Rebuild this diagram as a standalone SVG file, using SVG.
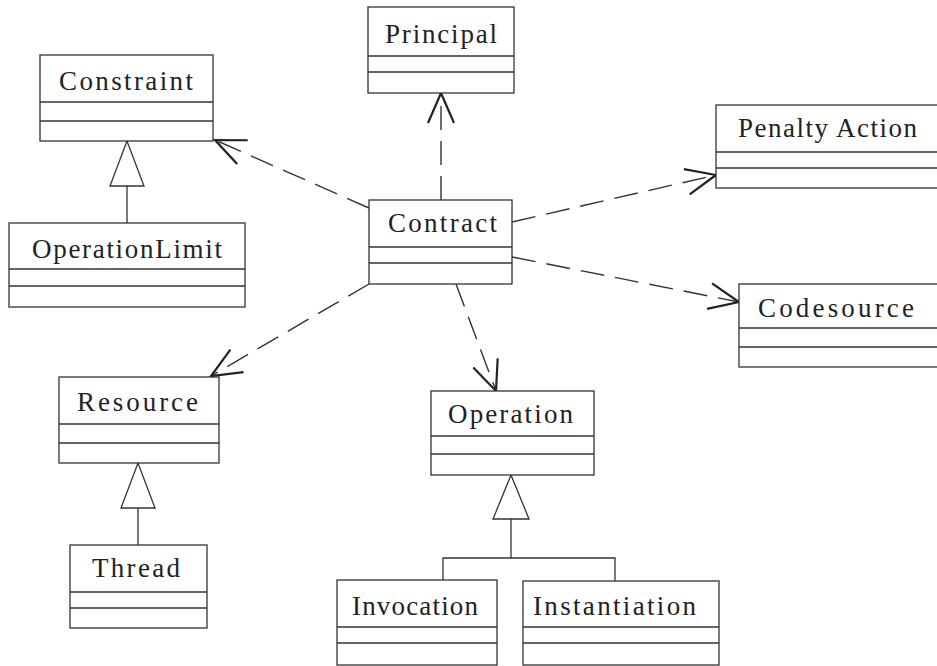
<svg xmlns="http://www.w3.org/2000/svg" width="937" height="666" viewBox="0 0 937 666">
  <style>
    .box rect, .box line { fill: none; stroke: #333; stroke-width: 1.3; }
    .box rect { fill: #fff; }
    .box text { font-family: "Liberation Serif", "Times New Roman", serif; font-size: 27px; fill: #222; }
    .dep { fill: none; stroke: #333; stroke-width: 1.4; stroke-dasharray: 24 11; marker-end: url(#open); }
    .gen { fill: none; stroke: #333; stroke-width: 1.3; }
    .tri { fill: #fff; stroke: #333; stroke-width: 1.3; }
  </style>
  <defs>
    <!-- open V arrowhead for dependencies -->
    <marker id="open" markerUnits="userSpaceOnUse" orient="auto" markerWidth="40" markerHeight="40" refX="0" refY="0" viewBox="-35 -20 40 40" overflow="visible">
      <path d="M-30,-13 L0,0 L-30,13" fill="none" stroke="#222" stroke-width="2.2" stroke-dasharray="none"/>
    </marker>
  </defs>
  <rect width="937" height="666" fill="#fff"/>

  <!-- connectors -->
  <g id="connectors">
    <line class="dep" x1="369" y1="208" x2="215" y2="140"/>
    <line class="dep" x1="441" y1="200" x2="441" y2="93"/>
    <line class="dep" x1="512" y1="222" x2="716" y2="175"/>
    <line class="dep" x1="512" y1="257" x2="739" y2="302"/>
    <line class="dep" x1="369" y1="284" x2="211" y2="376"/>
    <line class="dep" x1="456" y1="284" x2="496" y2="391"/>

    <!-- generalizations -->
    <line class="gen" x1="127" y1="223" x2="127" y2="186"/>
    <polygon class="tri" points="127,141 110,186 144,186"/>
    <line class="gen" x1="138" y1="545" x2="138" y2="508"/>
    <polygon class="tri" points="138,463 121,508 155,508"/>
    <polyline class="gen" points="443,580 443,558 615,558 615,581"/>
    <line class="gen" x1="511" y1="558" x2="511" y2="519"/>
    <polygon class="tri" points="511,475 493,519 529,519"/>
  </g>

  <g id="Constraint" class="box">
    <rect x="40" y="55" width="173" height="86"/>
    <line x1="40" y1="102" x2="213" y2="102"/>
    <line x1="40" y1="121" x2="213" y2="121"/>
    <text x="59" y="90" textLength="134" lengthAdjust="spacing">Constraint</text>
  </g>

  <g id="OperationLimit" class="box">
    <rect x="9" y="223" width="236" height="84"/>
    <line x1="9" y1="269" x2="245" y2="269"/>
    <line x1="9" y1="286" x2="245" y2="286"/>
    <text x="32" y="258" textLength="190" lengthAdjust="spacing">OperationLimit</text>
  </g>

  <g id="Principal" class="box">
    <rect x="368" y="7" width="146" height="86"/>
    <line x1="368" y1="56" x2="514" y2="56"/>
    <line x1="368" y1="72" x2="514" y2="72"/>
    <text x="385" y="43" textLength="112" lengthAdjust="spacing">Principal</text>
  </g>

  <g id="Contract" class="box">
    <rect x="369" y="200" width="143" height="84"/>
    <line x1="369" y1="247" x2="512" y2="247"/>
    <line x1="369" y1="263" x2="512" y2="263"/>
    <text x="388" y="232" textLength="109" lengthAdjust="spacing">Contract</text>
  </g>

  <g id="PenaltyAction" class="box">
    <rect x="716" y="105" width="240" height="83"/>
    <line x1="716" y1="152" x2="956" y2="152"/>
    <line x1="716" y1="168" x2="956" y2="168"/>
    <text x="738" y="137" textLength="179" lengthAdjust="spacing">Penalty Action</text>
  </g>

  <g id="Codesource" class="box">
    <rect x="739" y="284" width="220" height="83"/>
    <line x1="739" y1="328" x2="959" y2="328"/>
    <line x1="739" y1="347" x2="959" y2="347"/>
    <text x="758" y="317" textLength="156" lengthAdjust="spacing">Codesource</text>
  </g>

  <g id="Resource" class="box">
    <rect x="59" y="377" width="160" height="86"/>
    <line x1="59" y1="424" x2="219" y2="424"/>
    <line x1="59" y1="443" x2="219" y2="443"/>
    <text x="77" y="411" textLength="121" lengthAdjust="spacing">Resource</text>
  </g>

  <g id="Thread" class="box">
    <rect x="70" y="545" width="137" height="83"/>
    <line x1="70" y1="592" x2="207" y2="592"/>
    <line x1="70" y1="608" x2="207" y2="608"/>
    <text x="92" y="577" textLength="88" lengthAdjust="spacing">Thread</text>
  </g>

  <g id="Operation" class="box">
    <rect x="431" y="391" width="163" height="84"/>
    <line x1="431" y1="436" x2="594" y2="436"/>
    <line x1="431" y1="454" x2="594" y2="454"/>
    <text x="448" y="423" textLength="125" lengthAdjust="spacing">Operation</text>
  </g>

  <g id="Invocation" class="box">
    <rect x="337" y="580" width="160" height="85"/>
    <line x1="337" y1="627" x2="497" y2="627"/>
    <line x1="337" y1="643" x2="497" y2="643"/>
    <text x="352" y="615" textLength="126" lengthAdjust="spacing">Invocation</text>
  </g>

  <g id="Instantiation" class="box">
    <rect x="523" y="581" width="196" height="84"/>
    <line x1="523" y1="627" x2="719" y2="627"/>
    <line x1="523" y1="643" x2="719" y2="643"/>
    <text x="533" y="615" textLength="163" lengthAdjust="spacing">Instantiation</text>
  </g>
</svg>
